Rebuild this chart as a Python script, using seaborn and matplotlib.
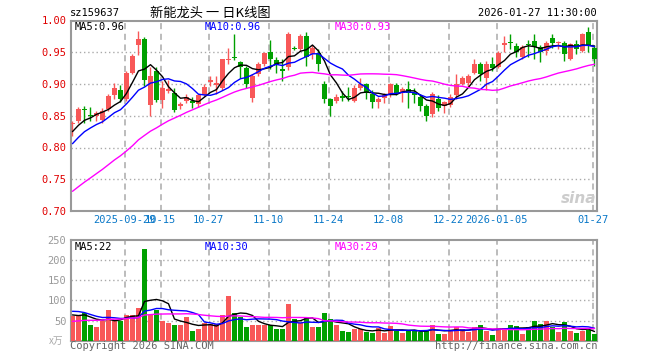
import numpy as np
import pandas as pd
import seaborn as sns
import matplotlib
matplotlib.use("Agg")
import matplotlib.pyplot as plt

# daily bars, 2025-09-16 .. 2026-01-27 (88 sessions)
opens = [0.837, 0.841, 0.861, 0.851, 0.850, 0.843, 0.861, 0.882, 0.890, 0.876,
         0.918, 0.962, 0.971, 0.867, 0.920, 0.875, 0.889, 0.886, 0.866, 0.873,
         0.873, 0.869, 0.883, 0.903, 0.899, 0.894, 0.938, 0.942, 0.935, 0.925,
         0.878, 0.915, 0.931, 0.951, 0.938, 0.923, 0.926, 0.957, 0.955, 0.976,
         0.948, 0.949, 0.900, 0.876, 0.873, 0.881, 0.881, 0.874, 0.894, 0.900,
         0.885, 0.871, 0.878, 0.884, 0.899, 0.886, 0.892, 0.886, 0.879, 0.866,
         0.852, 0.876, 0.865, 0.867, 0.882, 0.900, 0.901, 0.917, 0.932, 0.910,
         0.932, 0.927, 0.961, 0.966, 0.960, 0.943, 0.963, 0.967, 0.958, 0.952,
         0.973, 0.964, 0.965, 0.940, 0.963, 0.952, 0.982, 0.957]
highs = [0.842, 0.863, 0.866, 0.864, 0.857, 0.862, 0.885, 0.901, 0.899, 0.921,
         0.947, 0.983, 0.974, 0.926, 0.927, 0.905, 0.907, 0.894, 0.871, 0.885,
         0.880, 0.885, 0.900, 0.913, 0.913, 0.940, 0.957, 0.978, 0.937, 0.928,
         0.915, 0.934, 0.950, 0.969, 0.942, 0.940, 0.982, 0.960, 0.978, 0.982,
         0.962, 0.955, 0.905, 0.878, 0.884, 0.889, 0.896, 0.898, 0.910, 0.902,
         0.890, 0.880, 0.886, 0.902, 0.901, 0.896, 0.904, 0.894, 0.885, 0.868,
         0.888, 0.882, 0.874, 0.884, 0.915, 0.912, 0.915, 0.940, 0.934, 0.936,
         0.942, 0.952, 0.975, 0.979, 0.965, 0.962, 0.970, 0.979, 0.962, 0.968,
         0.979, 0.967, 0.968, 0.965, 0.969, 0.980, 0.989, 0.962]
lows = [0.818, 0.839, 0.839, 0.842, 0.842, 0.838, 0.858, 0.876, 0.872, 0.873,
        0.915, 0.946, 0.897, 0.850, 0.871, 0.862, 0.886, 0.856, 0.860, 0.870,
        0.862, 0.864, 0.881, 0.897, 0.884, 0.890, 0.931, 0.938, 0.910, 0.893,
        0.871, 0.912, 0.928, 0.923, 0.918, 0.905, 0.922, 0.953, 0.952, 0.928,
        0.940, 0.920, 0.870, 0.850, 0.870, 0.873, 0.874, 0.872, 0.891, 0.877,
        0.862, 0.862, 0.870, 0.880, 0.883, 0.871, 0.862, 0.870, 0.858, 0.841,
        0.848, 0.857, 0.855, 0.864, 0.877, 0.898, 0.895, 0.915, 0.905, 0.890,
        0.920, 0.925, 0.950, 0.955, 0.942, 0.940, 0.942, 0.940, 0.935, 0.945,
        0.957, 0.955, 0.937, 0.938, 0.948, 0.950, 0.950, 0.928]
closes = [0.839, 0.860, 0.859, 0.849, 0.854, 0.857, 0.881, 0.893, 0.877, 0.918,
          0.944, 0.971, 0.907, 0.912, 0.875, 0.893, 0.892, 0.859, 0.869, 0.880,
          0.870, 0.882, 0.896, 0.906, 0.902, 0.939, 0.940, 0.941, 0.927, 0.900,
          0.913, 0.931, 0.949, 0.939, 0.930, 0.920, 0.978, 0.955, 0.975, 0.942,
          0.957, 0.931, 0.876, 0.865, 0.879, 0.878, 0.880, 0.893, 0.900, 0.886,
          0.871, 0.877, 0.883, 0.900, 0.886, 0.892, 0.886, 0.882, 0.865, 0.849,
          0.884, 0.862, 0.871, 0.880, 0.900, 0.909, 0.913, 0.932, 0.915, 0.931,
          0.925, 0.949, 0.965, 0.965, 0.951, 0.958, 0.962, 0.958, 0.950, 0.965,
          0.965, 0.965, 0.947, 0.963, 0.955, 0.978, 0.962, 0.940]
# volume in 万
volumes = [61, 64, 69, 38, 35, 50, 75, 50, 48, 65, 65, 81, 228, 63, 75, 48, 45, 38,
           38, 58, 25, 30, 44, 42, 41, 65, 110, 70, 58, 35, 40, 38, 40, 39, 28, 30,
           90, 55, 45, 58, 35, 33, 68, 55, 40, 25, 22, 30, 28, 22, 20, 32, 20, 37,
           25, 20, 25, 25, 22, 27, 40, 17, 17, 27, 35, 30, 22, 35, 40, 25, 15, 32,
           32, 40, 37, 17, 35, 50, 42, 50, 35, 22, 47, 25, 20, 25, 27, 17]

# sessions before the window (estimated), only used to seed the moving averages
prior_closes = [0.64, 0.645, 0.65, 0.65, 0.655, 0.66, 0.67, 0.68, 0.69, 0.70,
                0.69, 0.70, 0.71, 0.72, 0.72, 0.73, 0.73, 0.74, 0.74, 0.75,
                0.76, 0.77, 0.79, 0.80, 0.815, 0.81, 0.82, 0.83, 0.826]
prior_volumes = [30, 28, 32, 35, 30, 27, 33, 38, 30, 34, 36, 40, 35, 38, 42, 37, 40,
                 36, 44, 45, 70, 95, 85, 80, 80, 72, 60, 65, 62]

tick_pos = [9, 15, 23, 33, 43, 53, 63, 71, 87]
tick_labels = ['2025-09-29', '10-15', '10-27', '11-10', '11-24', '12-08',
               '12-22', '2026-01-05', '01-27']

RED = '#f85858'
GREEN = '#00a000'
GRID = '#aaaaaa'
FRAME = '#999999'
W, H = 660, 360


def ma(prior, values, n):
    s = pd.Series(list(prior) + list(values), dtype=float)
    return s.rolling(n).mean().iloc[len(prior):].to_numpy()


df = pd.DataFrame({'idx': np.arange(len(closes)), 'open': opens, 'high': highs,
                   'low': lows, 'close': closes, 'vol': volumes})
df['dir'] = np.where(df['close'] >= df['open'], 'up', 'down')
for n in (5, 10, 30):
    df[f'ma{n}'] = ma(prior_closes, closes, n)
    df[f'vma{n}'] = ma(prior_volumes, volumes, n)

sns.set_style('white')
plt.rcParams['font.family'] = ['DejaVu Sans Mono', 'Noto Sans CJK SC']

fig = plt.figure(figsize=(W / 100, H / 100), dpi=100)


def box(left, top, right, bottom):
    return [left / W, 1 - bottom / H, (right - left) / W, (bottom - top) / H]


ax = fig.add_axes(box(70.5, 20.5, 597, 211))
axv = fig.add_axes(box(70.5, 240, 597, 340.7))

# candles
colors = df['dir'].map({'up': RED, 'down': GREEN})
ax.vlines(df['idx'], df['low'], df['high'], colors=colors, lw=1, zorder=3)
body = (df['close'] - df['open']).abs().clip(lower=0.0015)
ax.bar(df['idx'], body, bottom=df[['open', 'close']].min(axis=1), width=0.75,
       color=colors, linewidth=0, zorder=3)

for col, c in (('ma5', 'black'), ('ma10', '#0000ff'), ('ma30', '#ff00ff')):
    sns.lineplot(x=df['idx'], y=df[col], ax=ax, color=c, lw=1, zorder=4)

# volume
sns.barplot(data=df, x='idx', y='vol', hue='dir', palette={'up': RED, 'down': GREEN},
            native_scale=True, width=0.85, dodge=False, legend=False, saturation=1,
            linewidth=0, ax=axv, zorder=3)
for col, c in (('vma5', 'black'), ('vma10', '#0000ff'), ('vma30', '#ff00ff')):
    sns.lineplot(x=df['idx'], y=df[col], ax=axv, color=c, lw=1, zorder=4)

grid_x = [p - 0.33 for p in tick_pos]
for a in (ax, axv):
    a.set_xlim(-0.33, 87.42)
    a.set_xlabel('')
    a.set_ylabel('')
    for gx in grid_x:
        a.axvline(gx, color=GRID, lw=1.1, ls=(0, (4, 3)), zorder=1)
    for sp in a.spines.values():
        sp.set_color(FRAME)
        sp.set_linewidth(1.5)
    a.tick_params(length=0, pad=3)

ax.set_ylim(0.70, 1.0)
yt = [0.70, 0.75, 0.80, 0.85, 0.90, 0.95, 1.00]
ax.set_yticks(yt, [f'{v:.2f}' for v in yt], color='#e00000', fontsize=7.5)
for v in yt[1:-1]:
    ax.axhline(v, color=GRID, lw=1, ls=(0, (1, 2)), zorder=1)
# the first two date labels overlap in the original too
ax.set_xticks(grid_x, tick_labels, color='#0a78c8', fontsize=7.5)

axv.set_ylim(0, 250)
vt = [50, 100, 150, 200, 250]
axv.set_yticks(vt, [str(v) for v in vt], color='#999999', fontsize=7.5)
for v in vt[:-1]:
    axv.axhline(v, color=GRID, lw=1, ls=(0, (1, 2)), zorder=1)
axv.set_xticks([])


def ftext(x, y, s, **kw):
    fig.text(x / W, 1 - y / H, s, va='center', **kw)


ftext(70, 13, 'sz159637', fontsize=7.5, color='black')
ftext(150, 13, '新能龙头 一 日K线图', fontsize=9.5, color='black',
      family=['Noto Sans CJK SC', 'DejaVu Sans'])
ftext(597, 13, '2026-01-27 11:30:00', fontsize=7.5, color='black', ha='right')

ftext(75, 26.5, 'MA5:0.96', fontsize=7.5, color='black')
ftext(205, 26.5, 'MA10:0.96', fontsize=7.5, color='#0000ff')
ftext(335, 26.5, 'MA30:0.93', fontsize=7.5, color='#ff00ff')

ftext(75, 247, 'MA5:22', fontsize=7.5, color='black')
ftext(205, 247, 'MA10:30', fontsize=7.5, color='#0000ff')
ftext(335, 247, 'MA30:29', fontsize=7.5, color='#ff00ff')

ftext(49, 341, 'x万', fontsize=7, color='#aaaaaa', family=['Noto Sans CJK SC', 'DejaVu Sans'])
ftext(70, 346, 'Copyright 2026 SINA.COM', fontsize=7.5, color='#666666')
ftext(597, 346, 'http://finance.sina.com.cn', fontsize=7.5, color='#666666', ha='right')

ftext(596, 198, 'sina', fontsize=11, color='#cccccc', ha='right', style='italic',
      weight='bold', family='DejaVu Sans')

fig.savefig('out.png', dpi=100)
